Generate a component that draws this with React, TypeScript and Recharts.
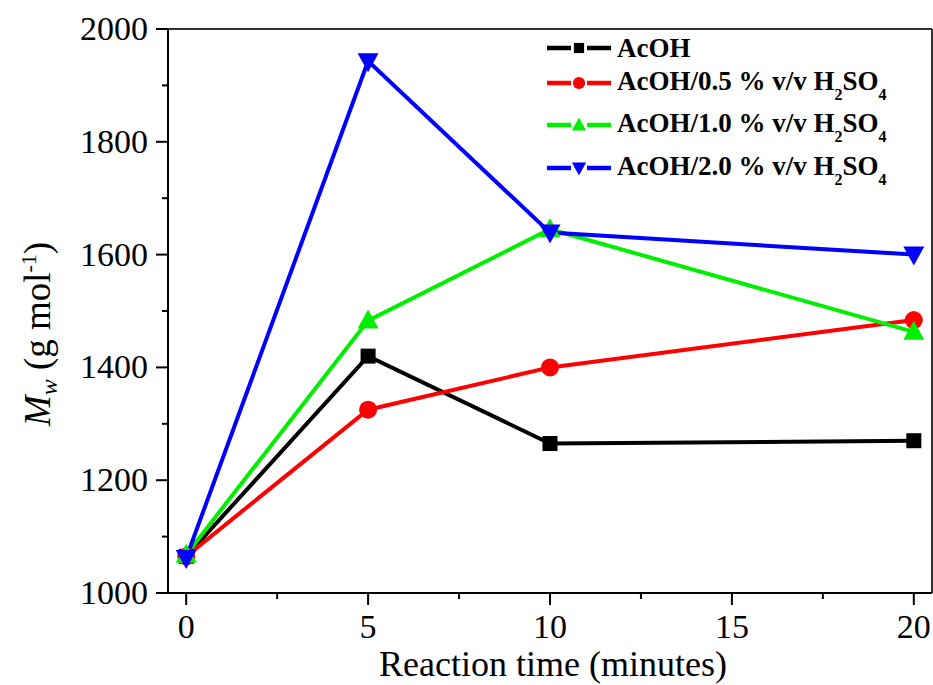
import React from "react";
import { LineChart, Line, XAxis, YAxis, Legend, ReferenceLine } from "recharts";

const times = [0, 5, 10, 20];
const acoh = [1065, 1420, 1265, 1270];
const h2so4_05 = [1065, 1325, 1400, 1484];
const h2so4_10 = [1068, 1483, 1645, 1463];
const h2so4_20 = [1062, 1943, 1639, 1600];

const xTicks = [0, 2.5, 5, 7.5, 10, 12.5, 15, 17.5, 20];
const yTicks = [1000, 1100, 1200, 1300, 1400, 1500, 1600, 1700, 1800, 1900, 2000];

const data = times.map((t, i) => ({
  t,
  a: acoh[i],
  b: h2so4_05[i],
  c: h2so4_10[i],
  d: h2so4_20[i],
}));

const FONT = "'Liberation Serif', 'Times New Roman', serif";

const series = [
  { key: "a", color: "#000000", shape: "square", label: "AcOH", acid: "" },
  { key: "b", color: "#ff0000", shape: "circle", label: "AcOH/0.5 % v/v H", acid: "0.5" },
  { key: "c", color: "#00ee00", shape: "up", label: "AcOH/1.0 % v/v H", acid: "1.0" },
  { key: "d", color: "#0000ff", shape: "down", label: "AcOH/2.0 % v/v H", acid: "2.0" },
];

const legendRowCenters = [48, 83, 125, 168];

function Marker({ cx, cy, shape, color, s = 1 }: any) {
  if (cx == null || cy == null) return null;
  if (shape === "square") {
    const h = 7.5 * s;
    return <rect x={cx - h} y={cy - h} width={2 * h} height={2 * h} fill={color} />;
  }
  if (shape === "circle") {
    return <circle cx={cx} cy={cy} r={9 * s} fill={color} />;
  }
  if (shape === "up") {
    const w = 10.5 * s;
    return (
      <polygon
        points={`${cx},${cy - 11 * s} ${cx - w},${cy + 8 * s} ${cx + w},${cy + 8 * s}`}
        fill={color}
      />
    );
  }
  const w = 10.5 * s;
  return (
    <polygon
      points={`${cx},${cy + 11 * s} ${cx - w},${cy - 8 * s} ${cx + w},${cy - 8 * s}`}
      fill={color}
    />
  );
}

const YTick = (props: any) => {
  const { x, y, payload } = props;
  const v = payload.value;
  const major = v % 200 === 0;
  return (
    <g>
      <line x1={x} x2={x - (major ? 12 : 6)} y1={y} y2={y} stroke="#000" strokeWidth={2} />
      {major && (
        <text
          x={x - 20}
          y={y + 11}
          textAnchor="end"
          fontFamily={FONT}
          fontSize={34}
          fill="#000"
        >
          {v}
        </text>
      )}
    </g>
  );
};

const XTick = (props: any) => {
  const { x, y, payload } = props;
  const v = payload.value;
  const major = v % 5 === 0;
  return (
    <g>
      <line x1={x} x2={x} y1={y} y2={y + (major ? 12 : 6)} stroke="#000" strokeWidth={2} />
      {major && (
        <text x={x} y={y + 45} textAnchor="middle" fontFamily={FONT} fontSize={34} fill="#000">
          {v}
        </text>
      )}
    </g>
  );
};

const YLabel = () => {
  const cx = 50;
  const cy = 334;
  return (
    <text
      x={cx}
      y={cy}
      transform={`rotate(-90, ${cx}, ${cy})`}
      textAnchor="middle"
      fontFamily={FONT}
      fontSize={37}
      fill="#000"
    >
      <tspan fontStyle="italic">M</tspan>
      <tspan fontStyle="italic" fontSize={24} dy={7}>w</tspan>
      <tspan dy={-7}> (g mol</tspan>
      <tspan fontSize={22} dy={-14}>-1</tspan>
      <tspan dy={14}>)</tspan>
    </text>
  );
};

const XLabel = (props: any) => {
  const vb = props.viewBox || {};
  const cx = (vb.x ?? 168) + (vb.width ?? 764) / 2 + 3;
  return (
    <text x={cx} y={676} textAnchor="middle" fontFamily={FONT} fontSize={36} fill="#000">
      Reaction time (minutes)
    </text>
  );
};

const renderLegend = () => (
  <div style={{ position: "relative", fontFamily: FONT, fontWeight: "bold", fontSize: 27, color: "#000", height: 170 }}>
    {series.map((s, i) => (
      <div
        key={s.key}
        style={{
          position: "absolute",
          left: 0,
          top: legendRowCenters[i] - 15,
          display: "flex",
          alignItems: "center",
          height: 30,
        }}
      >
        <svg width={70} height={30} style={{ display: "block" }}>
          <line x1={0} x2={24} y1={15} y2={15} stroke={s.color} strokeWidth={4.5} />
          <line x1={40} x2={64} y1={15} y2={15} stroke={s.color} strokeWidth={4.5} />
          <Marker cx={32} cy={15} shape={s.shape} color={s.color} s={0.68} />
        </svg>
        <span style={{ whiteSpace: "nowrap", lineHeight: "30px" }}>
          {s.acid === "" ? (
            s.label
          ) : (
            <>
              {s.label}
              <span style={{ fontSize: 16, position: "relative", top: 10 }}>2</span>
              SO
              <span style={{ fontSize: 16, position: "relative", top: 10 }}>4</span>
            </>
          )}
        </span>
      </div>
    ))}
  </div>
);

export default function App() {
  return (
    <div style={{ position: "absolute", left: 0, top: 0, width: 933, height: 685, background: "#fff" }}>
      <LineChart
        width={933}
        height={685}
        data={data}
        margin={{ top: 29, right: 1, left: 0, bottom: 0 }}
      >
        <XAxis
          dataKey="t"
          type="number"
          domain={[-0.5, 20.5]}
          ticks={xTicks}
          interval={0}
          allowDataOverflow
          height={92}
          tickSize={0}
          tickMargin={0}
          tickLine={false}
          tick={<XTick />}
          axisLine={{ stroke: "#000", strokeWidth: 2 }}
          label={<XLabel />}
        />
        <YAxis
          type="number"
          domain={[1000, 2000]}
          ticks={yTicks}
          interval={0}
          allowDataOverflow
          width={168}
          tickSize={0}
          tickMargin={0}
          tickLine={false}
          tick={<YTick />}
          axisLine={{ stroke: "#000", strokeWidth: 2 }}
          label={<YLabel />}
        />
        <ReferenceLine y={2000} stroke="#333" strokeWidth={2} ifOverflow="extendDomain" />
        <ReferenceLine x={20.5} stroke="#333" strokeWidth={2} ifOverflow="extendDomain" />
        <Legend
          layout="vertical"
          align="center"
          verticalAlign="middle"
          content={renderLegend}
          wrapperStyle={{ left: 547, top: 0, width: 385 }}
        />
        {series.map((s) => (
          <Line
            key={s.key}
            dataKey={s.key}
            stroke={s.color}
            strokeWidth={4}
            isAnimationActive={false}
            dot={(p: any) => <Marker key={`${s.key}-${p.index}`} cx={p.cx} cy={p.cy} shape={s.shape} color={s.color} />}
            activeDot={false}
          />
        ))}
      </LineChart>
    </div>
  );
}
